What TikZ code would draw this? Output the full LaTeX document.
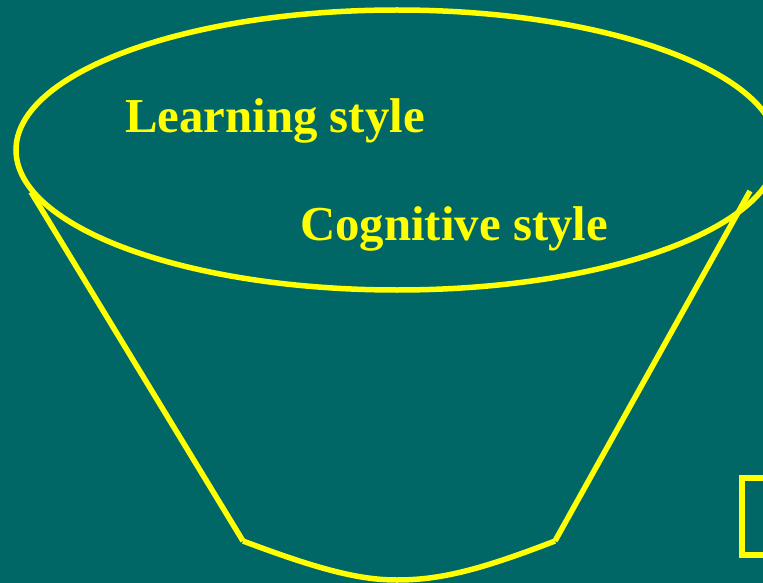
\documentclass[tikz,border=0pt]{standalone}
\usepackage{fontspec}
\setmainfont{Liberation Serif}
\definecolor{bg}{RGB}{0,102,102}
\definecolor{yel}{RGB}{255,255,0}
\begin{document}
\begin{tikzpicture}[x=1pt,y=-1pt,
  yline/.style={draw=yel,line width=5.5pt},
  label/.style={text=yel,font=\bfseries\fontsize{48.8}{55}\selectfont,anchor=base west,inner sep=0pt}]
\fill[bg] (0,0) rectangle (763,583);
\clip (0,0) rectangle (763,583);
\draw[yline] (397,150) ellipse [x radius=381, y radius=140];
\coordinate (lt) at (31,192);
\coordinate (lb) at (243,541);
\coordinate (rt) at (750,191);
\coordinate (rb) at (555,541);
\draw[yline] (lt) -- (lb);
\draw[yline] (rt) -- (rb);
\draw[yline] (lb) .. controls (320,570) and (360,580) .. (397,580) .. controls (440,580) and (480,570) .. (rb);
\draw[yline] (800,478) -- (742,478) -- (742,555) -- (800,555);
\node[label] (learn) at (125,133) {Learning style};
\node[label] (cog) at (300,240) {Cognitive style};
\end{tikzpicture}
\end{document}
